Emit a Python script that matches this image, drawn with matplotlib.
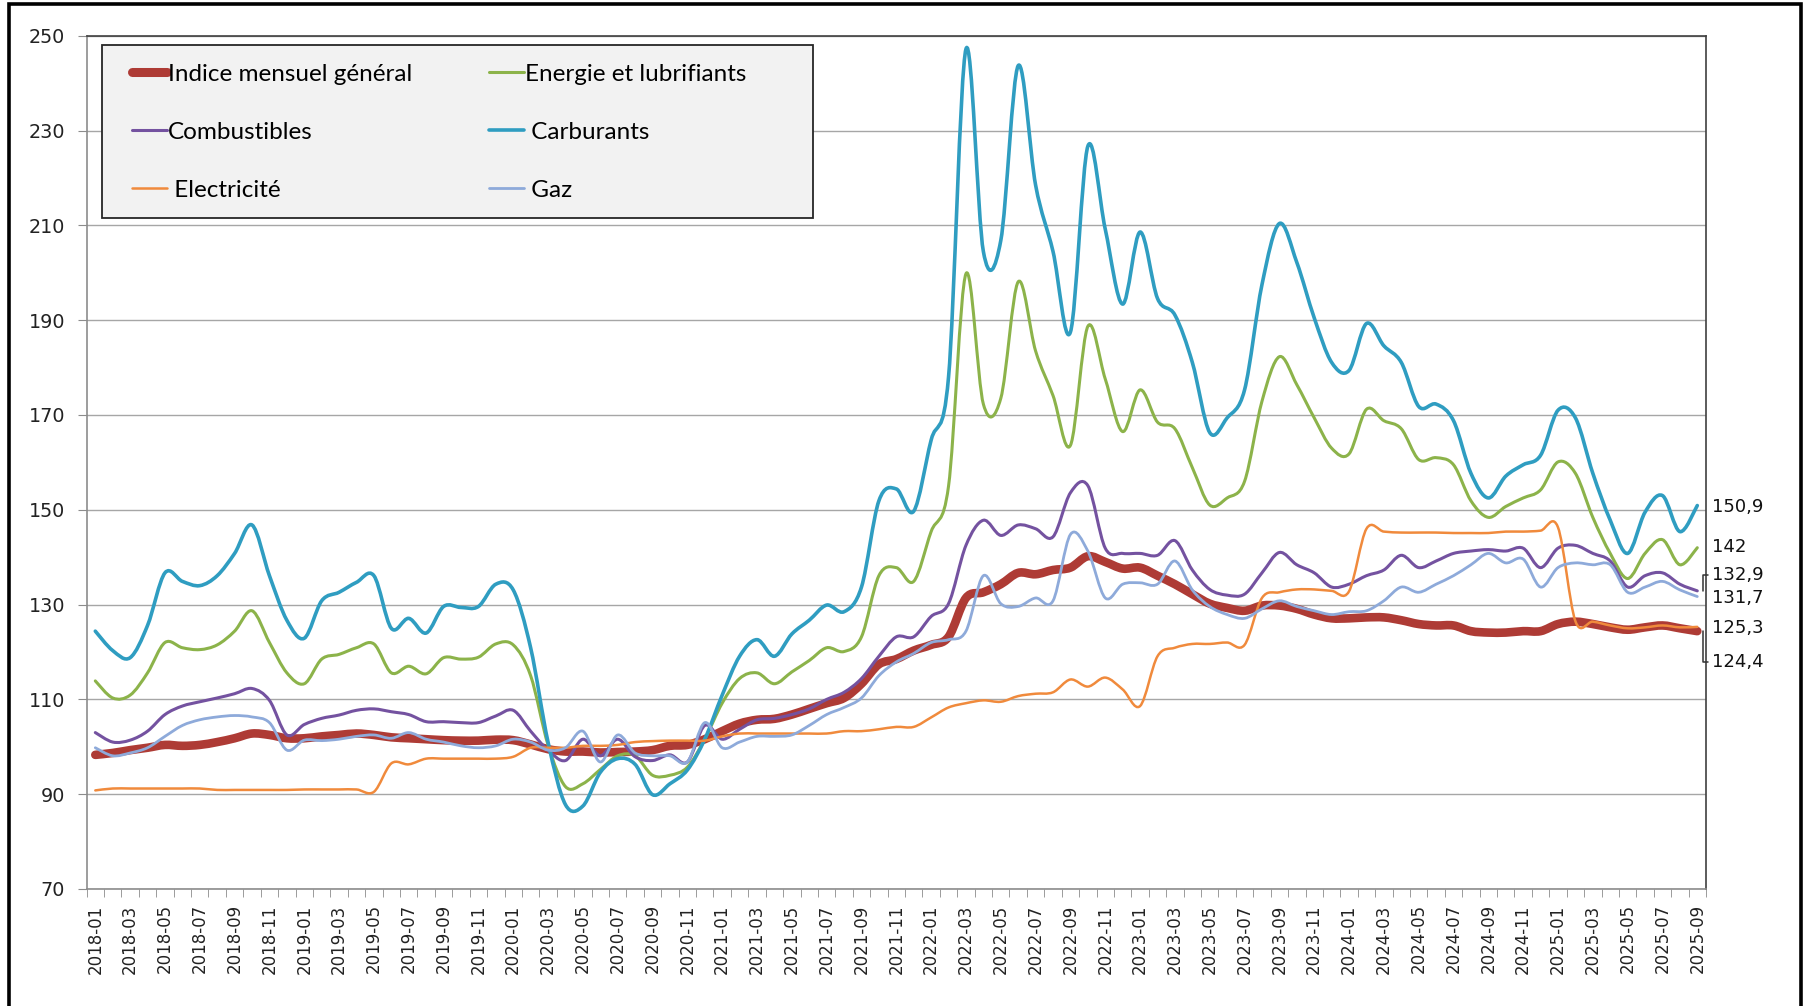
import matplotlib
matplotlib.use("Agg")
import matplotlib.pyplot as plt
from matplotlib.patches import Rectangle, PathPatch
from matplotlib.path import Path
from matplotlib.lines import Line2D
import numpy as np

# ---------------- data ----------------
months = [f"{y}-{m:02d}" for y in range(2018, 2026) for m in range(1, 13)][:93]

indice = [98.3, 98.7, 99.3, 99.8, 100.4, 100.2, 100.4, 101.0, 101.8, 102.8, 102.5, 101.8,
          101.8, 102.2, 102.5, 102.8, 102.5, 102.0, 101.8, 101.6, 101.4, 101.3, 101.3, 101.5,
          101.4, 100.5, 99.5, 99.0, 99.0, 98.8, 98.9, 99.0, 99.3, 100.2, 100.4, 101.6,
          103.3, 104.9, 105.7, 105.9, 106.8, 108.0, 109.2, 110.3, 113.3, 117.4, 118.5, 120.3,
          121.5, 123.2, 131.4, 132.6, 134.3, 136.7, 136.4, 137.3, 137.8, 140.2, 139.0, 137.6,
          137.8, 136.1, 134.3, 132.2, 130.2, 129.3, 128.7, 129.8, 129.8, 129.1, 127.9, 127.1,
          127.1, 127.3, 127.3, 126.7, 125.9, 125.6, 125.6, 124.4, 124.1, 124.1, 124.4, 124.4,
          125.9, 126.4, 125.9, 125.2, 124.7, 125.2, 125.6, 125.0, 124.4]

energie = [113.9, 110.3, 110.9, 115.6, 122.0, 120.9, 120.5, 121.5, 124.4, 128.7, 122.0, 115.6,
           113.3, 118.5, 119.5, 120.9, 121.7, 115.6, 117.0, 115.4, 118.8, 118.5, 118.9, 121.7,
           121.5, 115.0, 100.4, 91.6, 92.2, 95.2, 98.1, 98.1, 94.0, 94.0, 95.7, 101.6,
           109.2, 114.4, 115.6, 113.3, 115.8, 118.2, 120.9, 120.1, 123.2, 136.1, 137.8, 134.9,
           145.4, 155.0, 199.8, 172.3, 173.5, 198.1, 183.5, 174.1, 163.6, 188.7, 177.6, 166.5,
           175.3, 168.5, 167.1, 158.9, 151.0, 152.5, 156.0, 172.9, 182.3, 176.4, 169.4, 163.0,
           161.8, 171.2, 168.8, 167.1, 160.6, 161.0, 159.5, 151.9, 148.4, 150.7, 152.5, 154.2,
           160.1, 157.7, 148.4, 140.8, 135.5, 140.8, 143.7, 138.4, 142.0]

combustibles = [103.0, 101.0, 101.4, 103.3, 106.8, 108.6, 109.5, 110.3, 111.2, 112.3, 109.8, 102.5,
                104.7, 106.0, 106.7, 107.7, 108.0, 107.4, 106.8, 105.3, 105.3, 105.1, 105.1, 106.5,
                107.7, 103.3, 99.3, 97.1, 101.6, 98.1, 101.6, 97.9, 97.1, 98.3, 96.8, 104.5,
                101.6, 103.7, 105.7, 106.0, 106.8, 108.0, 110.0, 111.5, 114.4, 119.1, 123.2, 123.2,
                127.5, 130.2, 142.5, 147.8, 144.6, 146.8, 146.0, 144.3, 153.6, 155.1, 141.9, 140.8,
                140.8, 140.4, 143.5, 137.3, 133.2, 132.0, 132.2, 136.7, 141.0, 138.4, 136.7, 133.7,
                134.3, 136.1, 137.3, 140.4, 137.8, 139.2, 140.8, 141.3, 141.6, 141.3, 141.9, 137.8,
                141.9, 142.5, 140.8, 139.2, 133.7, 136.1, 136.7, 134.3, 132.9]

carburants = [124.4, 120.3, 118.8, 125.6, 136.7, 134.9, 134.0, 136.1, 140.8, 146.8, 136.1, 126.7,
              122.9, 130.8, 132.6, 134.7, 136.1, 125.0, 127.1, 124.0, 129.6, 129.4, 129.6, 134.3,
              133.1, 120.9, 101.0, 87.8, 87.5, 94.6, 97.5, 96.3, 89.9, 92.2, 95.1, 101.6,
              110.9, 119.1, 122.6, 119.1, 123.8, 126.7, 129.9, 128.5, 133.7, 151.9, 154.4, 149.7,
              164.7, 178.0, 247.2, 204.5, 206.8, 243.7, 218.5, 204.5, 187.5, 226.7, 209.2, 193.4,
              208.6, 194.6, 191.1, 181.1, 166.3, 169.4, 175.3, 197.5, 210.4, 202.2, 190.5, 181.1,
              179.4, 189.3, 184.6, 181.1, 171.8, 172.3, 168.8, 157.7, 152.5, 157.1, 159.5, 161.5,
              171.0, 169.4, 157.7, 147.8, 140.8, 149.5, 153.0, 145.4, 150.9]

electricite = [90.8, 91.2, 91.2, 91.2, 91.2, 91.2, 91.2, 90.9, 90.9, 90.9, 90.9, 90.9,
               91.0, 91.0, 91.0, 91.0, 90.5, 96.5, 96.3, 97.5, 97.5, 97.5, 97.5, 97.5,
               97.9, 99.8, 99.8, 99.8, 100.2, 100.2, 100.4, 101.0, 101.2, 101.3, 101.3, 101.3,
               102.2, 102.8, 102.8, 102.8, 102.8, 102.8, 102.8, 103.3, 103.3, 103.7, 104.2, 104.2,
               106.2, 108.3, 109.2, 109.8, 109.5, 110.7, 111.2, 111.5, 114.2, 112.7, 114.6, 112.1,
               108.6, 119.1, 120.9, 121.7, 121.7, 122.0, 121.5, 131.4, 132.6, 133.2, 133.2, 132.9,
               132.8, 146.0, 145.4, 145.2, 145.2, 145.2, 145.1, 145.1, 145.1, 145.4, 145.4, 145.6,
               146.3, 126.5, 126.4, 125.6, 125.0, 125.2, 125.6, 125.2, 125.3]

gaz = [99.8, 98.1, 98.7, 99.8, 102.2, 104.5, 105.7, 106.3, 106.6, 106.3, 105.1, 99.3,
       101.4, 101.3, 101.6, 102.2, 102.5, 101.8, 103.0, 101.6, 101.0, 100.2, 99.8, 100.2,
       101.6, 101.0, 99.3, 99.8, 103.3, 96.8, 102.5, 98.7, 98.1, 98.1, 96.8, 105.1,
       99.8, 101.0, 102.2, 102.2, 102.5, 104.5, 106.8, 108.3, 110.3, 115.0, 117.9, 119.7,
       122.0, 122.6, 124.4, 136.1, 130.2, 129.6, 131.4, 130.8, 144.8, 141.3, 131.4, 134.3,
       134.6, 134.3, 139.2, 133.1, 129.6, 127.9, 127.1, 129.1, 130.8, 129.6, 128.7, 127.9,
       128.5, 128.7, 130.8, 133.7, 132.6, 134.3, 136.1, 138.4, 140.8, 138.8, 139.6, 133.7,
       137.8, 138.8, 138.4, 138.4, 132.6, 133.7, 134.9, 133.1, 131.7]

# end labels: text and label position on the value axis
end_texts = ["150,9", "142", "132,9", "131,7", "125,3", "124,4"]
end_label_y = [150.6, 142.1, 136.3, 131.4, 125.1, 117.8]


def smooth_path(xv, yv):
    """Excel-like smoothed line: cubic Bezier through every data point."""
    p = np.column_stack([np.asarray(xv, float), np.asarray(yv, float)])
    n = len(p)
    verts = [p[0]]
    codes = [Path.MOVETO]
    for i in range(n - 1):
        p0 = p[i - 1] if i > 0 else p[i]
        p1, p2 = p[i], p[i + 1]
        p3 = p[i + 2] if i + 2 < n else p[i + 1]
        verts += [p1 + (p2 - p0) / 6.0, p2 - (p3 - p1) / 6.0, p2]
        codes += [Path.CURVE4] * 3
    return Path(np.array(verts), codes)


# ---------------- figure ----------------
W, H = 1810, 1006
fig = plt.figure(figsize=(W / 100, H / 100), dpi=100)
fig.patch.set_facecolor("white")

# outer black frame (bottom edge lies outside the image)
fig.add_artist(Rectangle((8.5 / W, -0.05), (1801 - 8.5) / W, 1.05 - 4.5 / H,
                         transform=fig.transFigure, fill=False,
                         edgecolor="black", linewidth=2.6))

ax = fig.add_axes([86.6 / W, 1 - 889 / H, (1706 - 86.6) / W, (889 - 35.8) / H])

x = np.arange(len(months))
series = [
    ("Indice mensuel général", indice, "#AE3B35", 6.2),
    ("Energie et lubrifiants", energie, "#8CB34A", 2.2),
    ("Combustibles", combustibles, "#7452A0", 2.2),
    (" Carburants", carburants, "#2F9DC1", 2.6),
    (" Electricité", electricite, "#F08A3C", 1.8),
    (" Gaz", gaz, "#8EAADA", 2.0),
]
handles = {}
for name, vals, col, lw in series:
    ax.add_patch(PathPatch(smooth_path(x, vals), fill=False, edgecolor=col, lw=lw,
                           capstyle="round", joinstyle="round", zorder=3))
    handles[name] = Line2D([], [], color=col, lw=(lw if lw < 5 else 6.5),
                           solid_capstyle="round")

ax.set_xlim(-0.5, len(months) - 0.5)
ax.set_ylim(70, 250)
ax.set_yticks(np.arange(70, 251, 20))
ax.yaxis.grid(True, color="#A6A6A6", lw=1.0, zorder=0)
ax.set_axisbelow(True)

ax.set_xticks(x[::2])
ax.set_xticklabels(months[::2], rotation=90, fontsize=12, family="DejaVu Sans",
                   color="#222222")
ax.set_xticks(np.arange(-0.5, len(months)), minor=True)
ax.tick_params(axis="x", which="major", length=0, pad=11)
ax.tick_params(axis="x", which="minor", length=6, color="#8C8C8C", direction="out")
ax.tick_params(axis="y", length=6.5, color="#8C8C8C", pad=9, labelsize=13.8,
               labelcolor="#222222")

for side in ("left", "bottom"):
    ax.spines[side].set_color("#8C8C8C")
    ax.spines[side].set_linewidth(1.2)
for side in ("top", "right"):
    ax.spines[side].set_color("#3F3F3F")
    ax.spines[side].set_linewidth(1.2)

# legend box
lx0 = (101.6 - 86.6) / (1706 - 86.6)
ly1 = 1 - (45 - 35.8) / (889 - 35.8)
lw_ = (812.7 - 101.6) / (1706 - 86.6)
lh_ = (218 - 45) / (889 - 35.8)
ax.add_patch(Rectangle((lx0, ly1 - lh_), lw_, lh_, transform=ax.transAxes,
                       facecolor="#F2F2F2", edgecolor="#262626", lw=1.3, zorder=5))
order = ["Indice mensuel général", "Combustibles", " Electricité",
         "Energie et lubrifiants", " Carburants", " Gaz"]
leg = ax.legend([handles[k] for k in order], order, ncol=2, loc="upper left",
                bbox_to_anchor=(lx0 + 0.0095, ly1 - 0.005), frameon=False,
                prop={"family": "Lato", "size": 17.5}, handlelength=1.45,
                handletextpad=0.05, labelspacing=1.52, columnspacing=3.15,
                borderpad=0.6, borderaxespad=0)
leg.set_zorder(6)

# end-of-series labels
last_vals = [carburants[-1], energie[-1], combustibles[-1], gaz[-1], electricite[-1], indice[-1]]
for t, ly, v in zip(end_texts, end_label_y, last_vals):
    if abs(ly - v) > 2:
        ax.annotate(t, xy=(x[-1] + 0.3, v), xycoords="data",
                    xytext=(1.004, ly), textcoords=("axes fraction", "data"),
                    va="center", ha="left", fontsize=13, family="DejaVu Sans",
                    color="#111111", annotation_clip=False,
                    arrowprops=dict(arrowstyle="-", color="#333333", lw=1.1,
                                    connectionstyle="angle,angleA=0,angleB=90,rad=0",
                                    shrinkA=1, shrinkB=0, relpos=(0, 0.5)))
    else:
        ax.annotate(t, xy=(1.004, ly), xycoords=("axes fraction", "data"),
                    va="center", ha="left", fontsize=13, family="DejaVu Sans",
                    color="#111111", annotation_clip=False)

fig.savefig("out.png", dpi=100)
